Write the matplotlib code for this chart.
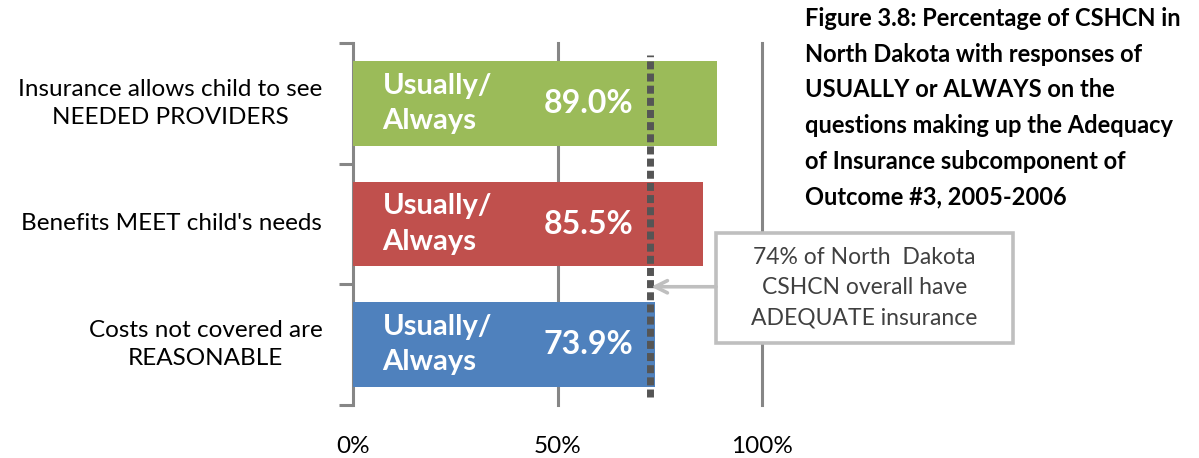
import matplotlib
matplotlib.use("Agg")
import matplotlib.pyplot as plt
from matplotlib.patches import Rectangle

# data, top to bottom as drawn
categories = ["Insurance allows child to see\nNEEDED PROVIDERS",
              "Benefits MEET child's needs",
              "Costs not covered are\nREASONABLE"]
values = [89.0, 85.5, 73.9]
colors = ["#9BBB59", "#C0504D", "#4F81BD"]
bar_text = "Usually/\nAlways"
overall = 72.5          # where the dotted "overall" line sits
x_ticks = [0, 50, 100]
x_ticklabels = ["0%", "50%", "100%"]

title = ("Figure 3.8: Percentage of CSHCN in\nNorth Dakota with responses of\n"
         "USUALLY or ALWAYS on the\nquestions making up the Adequacy\n"
         "of Insurance subcomponent of\nOutcome #3, 2005-2006")
note = "74% of North  Dakota\nCSHCN overall have\nADEQUATE insurance"

plt.rcParams['font.family'] = ['Lato', 'DejaVu Sans']

fig = plt.figure(figsize=(11.99, 4.58), dpi=100)
ax = fig.add_axes([353/1199, 1-405/458, (762-353)/1199, (405-43)/458])

ypos = [2, 1, 0]
ax.barh(ypos, values, height=0.70, color=colors, zorder=3)

for y, v in zip(ypos, values):
    ax.text(7.2, y, bar_text, color="white", fontsize=21, fontweight="bold",
            ha="left", va="center", linespacing=1.45, zorder=4)
    ax.text(68.5, y, f"{v:.1f}%", color="white", fontsize=23, fontweight="bold",
            ha="right", va="center", zorder=4)

# gridlines
for g in x_ticks[1:]:
    ax.axvline(g, color="#868686", lw=2.2, zorder=1, clip_on=False)

# dotted overall line
ax.plot([overall, overall], [-0.43, 2.4], color="#555555", lw=5.0,
        linestyle=(0, (1.15, 0.6)), dash_capstyle="butt", zorder=5)

ax.set_xlim(0, 100)
ax.set_ylim(-0.5, 2.5)
for s in ["top", "right", "bottom"]:
    ax.spines[s].set_visible(False)
ax.spines["left"].set_color("#868686")
ax.spines["left"].set_linewidth(2.2)
ax.set_yticks([-0.5, 0.5, 1.5, 2.5])
ax.set_yticklabels([])
ax.tick_params(axis="y", length=10, width=2.2, color="#868686", direction="out")
ax.set_xticks(x_ticks)
ax.set_xticklabels(x_ticklabels, fontsize=17.5)
ax.tick_params(axis="x", length=0, pad=22, colors="black")

for y, c in zip(ypos, categories):
    ax.text(-7.5, y, c, fontsize=17.5, ha="right", va="center",
            multialignment="center", linespacing=1.38)

fig.text(805/1199, 1-7/458, title, fontsize=17, fontweight="bold",
         ha="left", va="top", linespacing=1.67)

# annotation box with arrow to the dotted line
ax.add_patch(Rectangle((88.75, 0.017), 72.6, 0.91, fc="white", ec="#BFBFBF",
                       lw=2.6, clip_on=False, zorder=6))
ax.text(125.1, 0.472, note, fontsize=16.5, color="#404040", ha="center",
        va="center", linespacing=1.52, zorder=7, clip_on=False)
ax.annotate("", xy=(overall + 0.4, 0.48), xytext=(88.75, 0.48),
            annotation_clip=False,
            arrowprops=dict(arrowstyle="->", color="#BFBFBF", lw=2.6,
                            mutation_scale=22, shrinkA=0, shrinkB=0),
            zorder=6)

fig.savefig("out.png", dpi=100)
